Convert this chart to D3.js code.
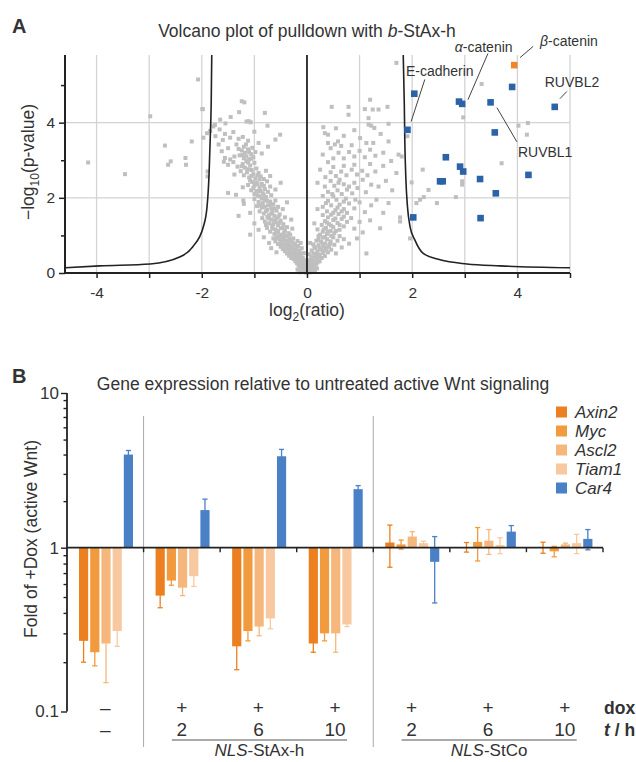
<!DOCTYPE html>
<html>
<head>
<meta charset="utf-8">
<script src="https://cdn.jsdelivr.net/npm/d3@7"></script>
<style>
  body { margin: 0; background: #fff; }
  text { font-family: "Liberation Sans", Arial, sans-serif; fill: #333; }
</style>
</head>
<body>
<script>
// ---------------- Panel A data ----------------
const volcanoXTicks = [-4, -3, -2, -1, 0, 1, 2, 3, 4, 5];
const volcanoXLabels = [-4, -2, 0, 2, 4];
const volcanoYMajor = [0, 2, 4];
const volcanoYMinor = [1, 3, 5];

const grayPoints = [
  [-0.01,0.01],[0.01,0.02],[-0.03,0.04],[0.03,0.05],[-0.06,0.03],[0.06,0.02],[-0.04,0.08],[0.05,0.09],[-0.09,0.06],[0.09,0.07],
  [-0.02,0.12],[0.02,0.13],[-0.07,0.11],[0.08,0.14],[-0.11,0.1],[0.12,0.1],[-0.05,0.16],[0.05,0.17],[-0.13,0.15],[0.14,0.18],
  [-0.09,0.19],[0.1,0.21],[-0.16,0.2],[0.17,0.22],[-0.03,0.22],[0.03,0.25],[-0.12,0.24],[0.13,0.27],[-0.19,0.26],[0.2,0.28],
  [-0.07,0.27],[0.07,0.3],[-0.15,0.3],[0.24,0.31],[-0.22,0.31],[0.0,0.05],[-0.14,0.02],[0.15,0.04],[-0.18,0.09],[0.19,0.12],
  [-0.08,0.22],[0.06,0.19],[-0.1,0.28],[0.11,0.25],[-0.02,0.3],[0.16,0.33],[-0.17,0.38],
  // left arm 0.3-1.0
  [-0.04,0.34],[-0.11,0.36],[-0.18,0.35],[-0.25,0.37],[-0.3,0.4],[-0.08,0.41],[-0.15,0.43],[-0.22,0.44],[-0.34,0.46],[-0.27,0.49],
  [-0.12,0.5],[-0.19,0.52],[-0.38,0.52],[-0.06,0.53],[-0.31,0.55],[-0.24,0.58],[-0.42,0.58],[-0.15,0.6],[-0.35,0.62],[-0.28,0.65],
  [-0.46,0.64],[-0.2,0.67],[-0.1,0.66],[-0.39,0.69],[-0.5,0.7],[-0.32,0.72],[-0.24,0.74],[-0.44,0.76],[-0.55,0.77],[-0.36,0.79],
  [-0.28,0.82],[-0.48,0.83],[-0.6,0.84],[-0.4,0.86],[-0.18,0.85],[-0.52,0.9],[-0.33,0.91],[-0.64,0.92],[-0.45,0.95],[-0.56,0.98],
  [-0.38,0.99],[-0.72,0.8],[-0.68,0.66],[-0.82,0.95],[-0.58,0.55],[-0.12,0.8],
  [-0.2,0.4],[-0.26,0.52],[-0.14,0.55],[-0.33,0.58],[-0.22,0.62],[-0.42,0.66],[-0.3,0.68],[-0.17,0.72],[-0.38,0.75],[-0.5,0.8],
  [-0.23,0.78],[-0.32,0.86],[-0.45,0.89],[-0.26,0.92],[-0.58,0.93],[-0.4,0.97],
  // left arm 1.0-1.5
  [-0.48,1.02],[-0.62,1.04],[-0.35,1.06],[-0.55,1.09],[-0.7,1.1],[-0.42,1.12],[-0.6,1.16],[-0.5,1.19],[-0.76,1.2],[-0.38,1.22],
  [-0.66,1.25],[-0.55,1.27],[-0.45,1.3],[-0.72,1.32],[-0.6,1.35],[-0.8,1.37],[-0.5,1.39],[-0.68,1.42],[-0.58,1.45],[-0.85,1.46],
  [-0.42,1.48],[-0.75,1.49],[-0.92,1.15],[-1.0,1.32],[-0.28,1.18],[-1.08,1.02],[-0.3,1.42],
  [-0.5,1.0],[-0.32,1.02],[-0.44,1.06],[-0.58,1.12],[-0.66,1.18],[-0.46,1.2],[-0.53,1.33],[-0.64,1.3],[-0.78,1.28],[-0.62,1.4],
  [-0.72,1.45],[-0.54,1.5],
  // left arm 1.5-2.0
  [-0.62,1.52],[-0.72,1.54],[-0.52,1.56],[-0.82,1.58],[-0.66,1.62],[-0.9,1.64],[-0.58,1.66],[-0.76,1.68],[-0.68,1.72],[-0.86,1.74],
  [-0.55,1.76],[-0.95,1.78],[-0.74,1.8],[-0.64,1.83],[-0.84,1.86],[-0.92,1.89],[-0.7,1.9],[-0.6,1.93],[-0.8,1.96],[-1.0,1.97],
  [-0.46,1.7],[-1.08,1.6],[-1.2,1.84],[-0.38,1.88],[-1.3,1.52],
  [-0.68,1.58],[-0.78,1.64],[-0.62,1.72],[-0.8,1.76],[-0.7,1.82],[-0.88,1.8],[-0.76,1.92],[-0.86,1.98],
  // left arm 2.0-2.5
  [-0.78,2.02],[-0.9,2.04],[-0.68,2.07],[-1.0,2.1],[-0.84,2.12],[-0.74,2.16],[-0.95,2.18],[-1.06,2.2],[-0.8,2.23],[-0.9,2.27],
  [-0.7,2.3],[-1.0,2.32],[-1.12,2.34],[-0.86,2.37],[-0.96,2.41],[-0.76,2.44],[-1.08,2.46],[-0.9,2.49],[-0.6,2.22],[-1.22,2.28],
  [-0.5,2.4],[-1.35,2.08],[-1.5,2.13],[-1.21,1.93],
  [-0.94,2.07],[-0.82,2.08],[-0.88,2.18],[-1.02,2.26],[-0.82,2.32],[-0.94,2.36],[-1.04,2.42],[-0.82,2.5],
  // left arm 2.5-3.0
  [-0.98,2.52],[-1.1,2.54],[-0.88,2.57],[-1.2,2.6],[-1.02,2.63],[-0.92,2.66],[-1.14,2.68],[-1.26,2.71],[-1.05,2.74],[-0.96,2.78],
  [-1.18,2.8],[-1.32,2.83],[-1.08,2.86],[-1.22,2.9],[-1.0,2.93],[-1.4,2.95],[-1.15,2.98],[-0.78,2.72],[-0.7,2.58],[-1.5,2.88],
  [-1.58,2.96],[-1.38,2.62],[-1.06,2.58],[-0.94,2.6],[-1.12,2.76],[-1.24,2.84],[-1.12,2.94],
  // left arm 3.0-3.5
  [-1.1,3.02],[-1.2,3.05],[-1.02,3.08],[-1.15,3.1],[-1.28,3.13],[-1.06,3.16],[-1.18,3.2],[-0.98,3.22],[-1.24,3.26],[-1.12,3.29],
  [-1.04,3.33],[-1.2,3.36],[-1.46,3.02],[-1.56,3.06],[-1.38,3.1],[-1.5,3.32],[-0.86,3.18],[-1.34,3.42],[-0.92,3.46],[-0.74,3.36],
  [-1.68,3.42],[-1.62,3.24],[-1.06,3.04],[-1.22,3.14],[-1.1,3.22],[-1.3,3.3],[-1.16,3.42],
  // left arm upper
  [-1.6,3.54],[-1.46,3.6],[-1.74,3.64],[-1.3,3.57],[-1.56,3.7],[-1.84,3.78],[-1.4,3.75],[-1.66,3.82],[-1.78,3.9],[-1.75,3.94],
  [-1.22,3.62],[-1.12,3.52],[-0.51,3.68],[-0.75,3.92],[-1.0,3.76],[-1.65,4.08],[-1.11,4.04],[-1.07,4.01],[-1.29,4.28],[-0.8,4.26],
  [-1.24,4.57],[-1.19,4.54],[-1.98,4.36],[-1.15,4.03],[-1.45,4.15],[-1.55,3.98],[-1.9,3.72],[-0.6,3.55],
  // right arm 0.3-1.0
  [0.04,0.34],[0.12,0.36],[0.2,0.37],[0.28,0.4],[0.08,0.42],[0.16,0.44],[0.34,0.45],[0.24,0.48],[0.05,0.5],[0.13,0.52],
  [0.3,0.53],[0.4,0.55],[0.2,0.57],[0.09,0.6],[0.27,0.62],[0.36,0.64],[0.46,0.62],[0.16,0.66],[0.31,0.7],[0.42,0.72],
  [0.22,0.74],[0.12,0.76],[0.52,0.75],[0.35,0.79],[0.27,0.83],[0.45,0.84],[0.18,0.86],[0.58,0.86],[0.38,0.9],[0.3,0.94],
  [0.5,0.95],[0.62,0.98],[0.22,0.98],[0.7,0.9],[0.55,0.52],[0.66,0.68],[0.8,0.78],[1.13,0.52],[0.06,0.8],[0.95,0.92],
  [0.1,0.4],[0.22,0.42],[0.18,0.5],[0.32,0.58],[0.24,0.66],[0.38,0.68],[0.14,0.7],[0.3,0.76],[0.44,0.78],[0.22,0.88],
  [0.34,0.96],[0.46,0.99],
  // right arm 1.0-1.5
  [0.25,1.02],[0.38,1.04],[0.52,1.06],[0.3,1.1],[0.45,1.12],[0.62,1.15],[0.2,1.16],[0.36,1.2],[0.5,1.22],[0.7,1.24],
  [0.28,1.28],[0.42,1.3],[0.58,1.33],[0.76,1.36],[0.34,1.38],[0.5,1.41],[0.66,1.44],[0.84,1.46],[0.4,1.48],[0.9,1.18],
  [1.0,1.36],[1.39,1.19],[1.06,1.08],[0.14,1.32],[1.2,1.4],
  [0.4,1.1],[0.55,1.12],[0.32,1.16],[0.46,1.26],[0.62,1.28],[0.38,1.34],[0.54,1.45],[0.7,1.5],
  // right arm 1.5-2.0
  [0.3,1.54],[0.46,1.55],[0.6,1.57],[0.76,1.6],[0.38,1.64],[0.54,1.67],[0.7,1.7],[0.9,1.72],[0.3,1.76],[0.46,1.8],
  [0.62,1.82],[0.8,1.85],[1.0,1.88],[0.4,1.92],[0.56,1.95],[0.74,1.98],[1.1,1.62],[1.22,1.8],[1.55,1.86],[1.32,1.95],
  [0.2,1.7],[0.92,1.95],[1.45,1.6],[1.77,1.48],[1.77,1.37],
  [0.5,1.6],[0.66,1.64],[0.58,1.74],[0.36,1.86],[0.7,1.9],
  // right arm 2.0-2.5
  [0.3,2.05],[0.5,2.04],[0.66,2.1],[0.86,2.12],[0.4,2.16],[0.58,2.2],[0.76,2.22],[0.96,2.26],[1.12,2.15],[0.34,2.3],
  [0.52,2.32],[0.7,2.36],[0.9,2.4],[1.22,2.35],[0.45,2.45],[0.62,2.48],[1.06,2.48],[1.36,2.3],[1.5,2.45],[1.99,2.41],
  [0.2,2.4],[1.62,2.2],[0.48,2.1],[0.8,2.3],[0.6,2.4],
  // right arm 2.5-3.0
  [0.35,2.55],[0.55,2.58],[0.75,2.6],[0.95,2.62],[1.15,2.6],[0.45,2.68],[0.65,2.7],[0.85,2.75],[1.05,2.72],[1.3,2.7],
  [0.5,2.82],[0.7,2.85],[0.9,2.88],[1.2,2.9],[1.45,2.85],[0.4,2.95],[1.7,2.66],[0.25,2.75],[1.6,2.98],
  // right arm 3.0-3.5
  [0.5,3.05],[0.7,3.05],[0.9,3.1],[1.1,3.08],[1.3,3.12],[0.6,3.2],[0.8,3.22],[1.0,3.25],[1.2,3.28],[1.45,3.2],
  [0.45,3.32],[0.65,3.38],[0.85,3.4],[1.74,3.15],[1.8,3.1],[0.4,3.46],[0.53,3.42],[0.59,3.5],[1.13,3.46],[1.26,3.46],
  [1.55,3.5],[0.3,3.15],
  // right arm upper
  [1.01,3.59],[0.34,3.72],[0.4,3.68],[0.31,3.88],[1.17,3.95],[1.22,3.92],[1.28,3.86],[1.55,3.97],[0.7,3.65],[0.9,3.8],
  [1.4,3.7],[0.55,3.85],[0.47,4.42],[0.79,4.42],[0.79,4.21],[1.1,4.36],[1.2,4.61],[1.25,4.35],[1.36,4.35],[1.53,4.42],
  [1.17,4.12],[1.7,5.59],
  // outliers
  [2.2,2.75],[3.7,2.92],[2.95,2.44],[2.95,2.35],[2.31,2.21],[2.22,2.02],[2.15,1.95],[2.08,1.86],[2.47,1.86],[2.83,2.02],
  [1.96,0.92],[3.32,5.03],[2.97,4.14],[4.02,3.92],[4.2,3.99],[4.18,3.68],[1.91,3.64],
  [-4.16,2.94],[-3.46,2.63],[-2.7,3.39],[-2.59,2.97],[-2.64,2.88],[-2.31,3.06],[-2.3,2.88],[-2.19,3.5],[-2.07,5.15],
  [-1.99,4.36],[-2.98,4.17],[-1.89,2.57],[-1.89,2.7],[-1.97,3.6]
];

const bluePoints = [
  [2.04,4.77],[1.91,3.81],[2.02,1.48],[2.89,4.56],[2.95,4.5],[3.49,4.54],[3.57,3.74],[3.9,4.95],[4.71,4.42],
  [2.64,3.08],[2.91,2.83],[2.97,2.70],[2.53,2.44],[2.58,2.44],[3.29,2.50],[4.21,2.61],[3.59,2.12],[3.30,1.46]
];
const orangePoints = [[3.94,5.53]];

// threshold curves
const curveRight = [[1.83,5.8],[1.85,4.5],[1.86,3.5],[1.88,2.5],[1.91,1.77],[1.96,1.23],[2.05,0.88],[2.21,0.52],[2.53,0.35],[3.04,0.24],[3.67,0.19],[5.0,0.14]];
const curveLeft = [[-4.6,0.14],[-3.94,0.19],[-2.98,0.24],[-2.41,0.43],[-2.17,0.7],[-1.97,1.23],[-1.9,1.76],[-1.86,2.67],[-1.84,3.55],[-1.82,4.6],[-1.81,5.8]];

// annotations: label, text anchor (data), leader line start & end (data)
const annotNames = ["E-cadherin", "α-catenin", "β-catenin", "RUVBL2", "RUVBL1"];
const annotText = [[1.88,5.23],[2.81,5.89],[4.43,6.05],[4.52,4.96],[4.01,3.09]];
const annotLine = [
  [[2.24,5.15],[1.98,4.03]],
  [[3.44,5.84],[3.06,4.61]],
  [[4.30,6.03],[4.05,5.73]],
  [[4.94,4.83],[4.81,4.64]],
  [[3.99,3.49],[3.61,4.40]]
];

// ---------------- Panel B data ----------------
const groupKeys = ["ctrl", "StAx-h 2", "StAx-h 6", "StAx-h 10", "StCo 2", "StCo 6", "StCo 10"];
const doxLabels = ["–", "+", "+", "+", "+", "+", "+"];
const timeLabels = ["–", "2", "6", "10", "2", "6", "10"];
const genes = ["Axin2", "Myc", "Ascl2", "Tiam1", "Car4"];
const geneColors = ["#ec7f1f", "#f29a3e", "#f6b77c", "#f8c9a0", "#4a80c6"];

const axin2 = [0.27, 0.51, 0.25, 0.26, 1.08, 1.01, 1.005];
const axin2Err = [0.07, 0.08, 0.07, 0.03, 0.32, 0.07, 0.08];
const myc = [0.23, 0.63, 0.31, 0.30, 1.05, 1.09, 0.95];
const mycErr = [0.04, 0.04, 0.04, 0.03, 0.07, 0.26, 0.07];
const ascl2 = [0.26, 0.57, 0.33, 0.30, 1.18, 1.11, 1.05];
const ascl2Err = [0.11, 0.06, 0.04, 0.07, 0.09, 0.20, 0.02];
const tiam1 = [0.31, 0.67, 0.37, 0.34, 1.07, 1.04, 1.07];
const tiam1Err = [0.06, 0.09, 0.05, 0.01, 0.03, 0.12, 0.15];
const car4 = [4.0, 1.75, 3.9, 2.39, 0.82, 1.27, 1.14];
const car4Err = [0.25, 0.31, 0.42, 0.13, 0.36, 0.12, 0.17];

const barValues = [axin2, myc, ascl2, tiam1, car4];
const barErrors = [axin2Err, mycErr, ascl2Err, tiam1Err, car4Err];
const foldMajor = [0.1, 1, 10];
const foldMinor = [0.2,0.3,0.4,0.5,0.6,0.7,0.8,0.9,2,3,4,5,6,7,8,9];

// ---------------- Drawing ----------------
const W = 636, H = 762;
const svg = d3.select("body").append("svg").attr("width", W).attr("height", H);
const FONT = '"Liberation Sans", Arial, sans-serif';

// ===== Panel A =====
const xA = d3.scaleLinear().domain([-4.6, 5]).range([65, 570]);
const yA = d3.scaleLinear().domain([0, 5.8]).range([273, 55]);
const gA = svg.append("g");

svg.append("text").attr("x", 12).attr("y", 33).style("font-size", "20px").style("font-weight", "bold").attr("fill", "#222").text("A");
const tA = svg.append("text").attr("x", xA(0)).attr("y", 37).attr("text-anchor", "middle").style("font-size", "17.5px");
tA.append("tspan").text("Volcano plot of pulldown with ");
tA.append("tspan").style("font-style", "italic").text("b");
tA.append("tspan").text("-StAx-h");

// grid
gA.selectAll("line.gx").data(volcanoXTicks.filter(d => d !== 0)).join("line")
  .attr("x1", d => xA(d)).attr("x2", d => xA(d)).attr("y1", yA(0)).attr("y2", yA(5.8))
  .attr("stroke", "#d3d3d3").attr("stroke-width", 1.3);
gA.selectAll("line.gy").data([2, 4]).join("line")
  .attr("x1", xA(-4.6)).attr("x2", xA(5)).attr("y1", d => yA(d)).attr("y2", d => yA(d))
  .attr("stroke", "#d3d3d3").attr("stroke-width", 1.3);

// points
gA.selectAll("rect.gray").data(grayPoints).join("rect")
  .attr("x", d => xA(d[0]) - 2).attr("y", d => yA(d[1]) - 2).attr("width", 4).attr("height", 4)
  .attr("fill", "#bfbfbf");

// zero line
gA.append("line").attr("x1", xA(0)).attr("x2", xA(0)).attr("y1", yA(0)).attr("y2", yA(5.8))
  .attr("stroke", "#222").attr("stroke-width", 1.8);

// curves
const lineA = d3.line().x(d => xA(d[0])).y(d => yA(d[1])).curve(d3.curveMonotoneX);
[curveLeft, curveRight].forEach(c => {
  gA.append("path").attr("d", lineA(c)).attr("fill", "none").attr("stroke", "#222").attr("stroke-width", 1.6);
});

gA.selectAll("rect.blue").data(bluePoints).join("rect")
  .attr("x", d => xA(d[0]) - 3.3).attr("y", d => yA(d[1]) - 3.3).attr("width", 6.6).attr("height", 6.6)
  .attr("fill", "#2c62a8");
gA.selectAll("rect.orange").data(orangePoints).join("rect")
  .attr("x", d => xA(d[0]) - 3.3).attr("y", d => yA(d[1]) - 3.3).attr("width", 6.6).attr("height", 6.6)
  .attr("fill", "#f0862a");

// annotations
annotNames.forEach((name, i) => {
  const l = annotLine[i];
  gA.append("line").attr("x1", xA(l[0][0])).attr("y1", yA(l[0][1])).attr("x2", xA(l[1][0])).attr("y2", yA(l[1][1]))
    .attr("stroke", "#444").attr("stroke-width", 1);
  const t = gA.append("text").attr("x", xA(annotText[i][0])).attr("y", yA(annotText[i][1])).style("font-size", "14px");
  if (name[0] === "α" || name[0] === "β") {
    t.append("tspan").style("font-style", "italic").text(name[0]);
    t.append("tspan").text(name.slice(1));
  } else t.text(name);
});

// axes A
const axAx = gA.append("g").attr("transform", `translate(0,${yA(0)})`)
  .call(d3.axisBottom(xA).tickValues(volcanoXTicks).tickSize(5).tickPadding(9)
    .tickFormat(d => volcanoXLabels.includes(d) ? String(d).replace("−", "-") : ""));
const axAy = gA.append("g").attr("transform", `translate(${xA(-4.6)},0)`)
  .call(d3.axisLeft(yA).tickValues(volcanoYMajor).tickSize(6).tickPadding(4).tickFormat(d3.format("d")));
const axAy2 = gA.append("g").attr("transform", `translate(${xA(-4.6)},0)`)
  .call(d3.axisLeft(yA).tickValues(volcanoYMinor).tickSize(4).tickFormat(""));
[axAx, axAy, axAy2].forEach(a => {
  a.select(".domain").attr("stroke", "#222").attr("stroke-width", 2);
  a.selectAll(".tick line").attr("stroke", "#222").attr("stroke-width", 1.5);
  a.selectAll(".tick text").style("font-size", "15.5px").style("font-family", FONT).attr("fill", "#333");
});
axAx.select(".domain").attr("d", `M${xA(-4.6)},0H${xA(5)}`);
axAy.select(".domain").attr("d", `M0,${yA(0)}V${yA(5.8)}`);
axAy2.select(".domain").remove();

// axis labels A
const xl = gA.append("text").attr("x", xA(0)).attr("y", 316).attr("text-anchor", "middle").style("font-size", "17.5px");
xl.append("tspan").text("log");
xl.append("tspan").attr("dy", 5).style("font-size", "12px").text("2");
xl.append("tspan").attr("dy", -5).text("(ratio)");
const yl = gA.append("text").attr("transform", `translate(34,${162}) rotate(-90)`).attr("text-anchor", "middle").style("font-size", "17.5px");
yl.append("tspan").text("−log");
yl.append("tspan").attr("dy", 5).style("font-size", "12px").text("10");
yl.append("tspan").attr("dy", -5).text("(p-value)");

// ===== Panel B =====
const xB = d3.scaleBand().domain(groupKeys).range([67, 603]).padding(0);
const xIn = d3.scaleBand().domain(genes).range([12, 66]).paddingInner(0.18);
const yB = d3.scaleLog().domain([0.1, 1, 10]).range([711.5, 547.7, 393]);
const gB = svg.append("g");

svg.append("text").attr("x", 12).attr("y", 383).style("font-size", "20px").style("font-weight", "bold").attr("fill", "#222").text("B");
gB.append("text").attr("x", 323).attr("y", 390).attr("text-anchor", "middle").style("font-size", "17.5px")
  .text("Gene expression relative to untreated active Wnt signaling");

// separators
gB.selectAll("line.sep").data(["StAx-h 2", "StCo 2"]).join("line")
  .attr("x1", d => xB(d)).attr("x2", d => xB(d)).attr("y1", 416).attr("y2", 747)
  .attr("stroke", "#aaa").attr("stroke-width", 1);

// error bars then bars
genes.forEach((g, gi) => {
  const col = geneColors[gi];
  groupKeys.forEach((k, i) => {
    const v = barValues[gi][i], e = barErrors[gi][i];
    const cx = xB(k) + xIn(g) + xIn.bandwidth() / 2;
    const lo = yB(Math.max(v - e, 0.1)), hi = yB(v + e);
    gB.append("line").attr("x1", cx).attr("x2", cx).attr("y1", lo).attr("y2", hi).attr("stroke", col).attr("stroke-width", 1.3);
    [lo, hi].forEach(yy => gB.append("line").attr("x1", cx - 2.6).attr("x2", cx + 2.6).attr("y1", yy).attr("y2", yy)
      .attr("stroke", col).attr("stroke-width", 1.3));
  });
});
genes.forEach((g, gi) => {
  gB.selectAll(null).data(groupKeys).join("rect")
    .attr("x", k => xB(k) + xIn(g)).attr("width", xIn.bandwidth())
    .attr("y", (k, i) => Math.min(yB(barValues[gi][i]), yB(1)))
    .attr("height", (k, i) => Math.abs(yB(barValues[gi][i]) - yB(1)))
    .attr("fill", geneColors[gi]);
});

// axes B
const axBy = gB.append("g").attr("transform", `translate(67,0)`)
  .call(d3.axisLeft(yB).tickValues(foldMajor).tickSize(6).tickPadding(2).tickFormat(d => String(d)));
const axBy2 = gB.append("g").attr("transform", `translate(67,0)`)
  .call(d3.axisLeft(yB).tickValues(foldMinor).tickSize(3.5).tickFormat(""));
[axBy, axBy2].forEach(a => {
  a.select(".domain").remove();
  a.selectAll(".tick line").attr("stroke", "#222").attr("stroke-width", 1.4);
  a.selectAll(".tick text").style("font-size", "17px").style("font-family", FONT).attr("fill", "#333");
});
gB.append("line").attr("x1", 67).attr("x2", 67).attr("y1", yB(0.1)).attr("y2", yB(10)).attr("stroke", "#222").attr("stroke-width", 1.8);
gB.append("line").attr("x1", 67).attr("x2", 603).attr("y1", yB(1)).attr("y2", yB(1)).attr("stroke", "#222").attr("stroke-width", 1.8);
gB.selectAll("line.xt").data(groupKeys.slice(1).map(k => xB(k)).concat([xB(groupKeys[6]) + xB.bandwidth()])).join("line")
  .attr("x1", d => d).attr("x2", d => d).attr("y1", yB(1)).attr("y2", yB(1) + 4.5)
  .attr("stroke", "#222").attr("stroke-width", 1.4);

// legend
genes.forEach((g, gi) => {
  const yy = 412 + gi * 19;
  gB.append("rect").attr("x", 556).attr("y", yy - 5.5).attr("width", 11).attr("height", 11).attr("fill", geneColors[gi]);
  gB.append("text").attr("x", 575).attr("y", yy + 6).style("font-size", "17px").style("font-style", "italic").text(g);
});

// condition labels
groupKeys.forEach((k, i) => {
  const cx = xB(k) + xB.bandwidth() / 2;
  gB.append("text").attr("x", cx).attr("y", 714).attr("text-anchor", "middle").style("font-size", "19px").text(doxLabels[i]);
  gB.append("text").attr("x", cx).attr("y", 736).attr("text-anchor", "middle").style("font-size", "19px").text(timeLabels[i]);
});
gB.append("text").attr("x", 604).attr("y", 714).style("font-size", "17.5px").style("font-weight", "bold").attr("fill", "#222").text("dox");
const th = gB.append("text").attr("x", 604).attr("y", 736).style("font-size", "17.5px").style("font-weight", "bold").attr("fill", "#222");
th.append("tspan").style("font-style", "italic").text("t");
th.append("tspan").text(" / h");

const construct = [["NLS", "-StAx-h", 1, 3], ["NLS", "-StCo", 4, 6]];
construct.forEach(c => {
  const x1 = xB(groupKeys[c[2]]) + xB.bandwidth() / 2 - 10;
  const x2 = xB(groupKeys[c[3]]) + xB.bandwidth() / 2 + 12;
  gB.append("line").attr("x1", x1).attr("x2", x2).attr("y1", 740).attr("y2", 740).attr("stroke", "#555").attr("stroke-width", 1);
  const t = gB.append("text").attr("x", (x1 + x2) / 2).attr("y", 756).attr("text-anchor", "middle").style("font-size", "17px");
  t.append("tspan").style("font-style", "italic").text(c[0]);
  t.append("tspan").text(c[1]);
});

// y label B
gB.append("text").attr("transform", `translate(37,539) rotate(-90)`).attr("text-anchor", "middle").style("font-size", "17.5px")
  .text("Fold of +Dox (active Wnt)");
</script>
</body>
</html>
